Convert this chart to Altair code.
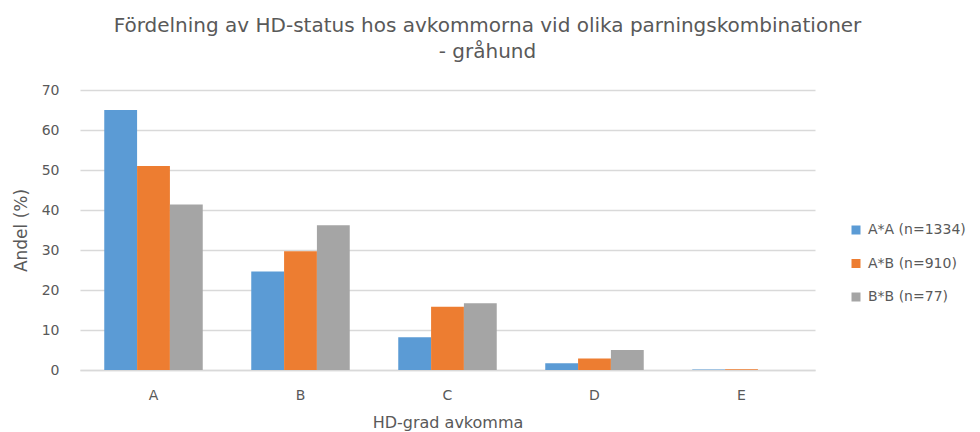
import altair as alt
import pandas as pd

categories = ["A", "B", "C", "D", "E"]
series = ["A*A (n=1334)", "A*B (n=910)", "B*B (n=77)"]
values_AA = [65.0, 24.6, 8.2, 1.7, 0.1]
values_AB = [51.0, 29.7, 15.8, 2.9, 0.2]
values_BB = [41.4, 36.2, 16.7, 5.0, 0.0]
colors = ["#5B9BD5", "#ED7D31", "#A5A5A5"]

rows = []
for s, vals in zip(series, [values_AA, values_AB, values_BB]):
    for c, v in zip(categories, vals):
        rows.append({"grad": c, "serie": s, "andel": v})
df = pd.DataFrame(rows)

FONT = "DejaVu Sans"
TXT = "#595959"

chart = alt.Chart(df).mark_bar().encode(
    x=alt.X("grad:N", sort=categories,
            scale=alt.Scale(paddingInner=0.33, paddingOuter=0.165),
            axis=alt.Axis(title="HD-grad avkomma", labelAngle=0, ticks=False,
                          domainColor="#D9D9D9", domainWidth=1.5,
                          labelPadding=18, titlePadding=12,
                          labelFontSize=14, titleFontSize=16,
                          labelColor=TXT, titleColor=TXT,
                          labelFont=FONT, titleFont=FONT, titleFontWeight="normal")),
    xOffset=alt.XOffset("serie:N", sort=series),
    y=alt.Y("andel:Q", scale=alt.Scale(domain=[0, 70]),
            axis=alt.Axis(title="Andel (%)", values=list(range(0, 71, 10)),
                          ticks=False, domain=False, gridColor="#D9D9D9", gridWidth=1.5,
                          labelPadding=21, titlePadding=11,
                          labelFontSize=14, titleFontSize=17,
                          labelColor=TXT, titleColor=TXT,
                          labelFont=FONT, titleFont=FONT, titleFontWeight="normal")),
    color=alt.Color("serie:N", sort=series,
                    scale=alt.Scale(domain=series, range=colors),
                    legend=alt.Legend(title=None, orient="none", legendX=769, legendY=133,
                                      symbolType="square", symbolSize=81,
                                      symbolStrokeWidth=0, labelOffset=5,
                                      rowPadding=19.5, padding=0, labelLimit=200,
                                      labelFontSize=14, labelColor=TXT, labelFont=FONT)),
).properties(
    width=735,
    height=280,
    title=alt.TitleParams(
        text=["Fördelning av HD-status hos avkommorna vid olika parningskombinationer",
              "- gråhund"],
        fontSize=20, font=FONT, color=TXT, fontWeight="normal",
        anchor="middle", offset=21, lineHeight=26, dx=40),
    autosize=alt.AutoSizeParams(type="none"),
    padding={"left": 72, "top": 82, "right": 156, "bottom": 76},
).configure_view(stroke=None)

chart.save("out.html", embed_options={"renderer": "svg", "actions": False})
